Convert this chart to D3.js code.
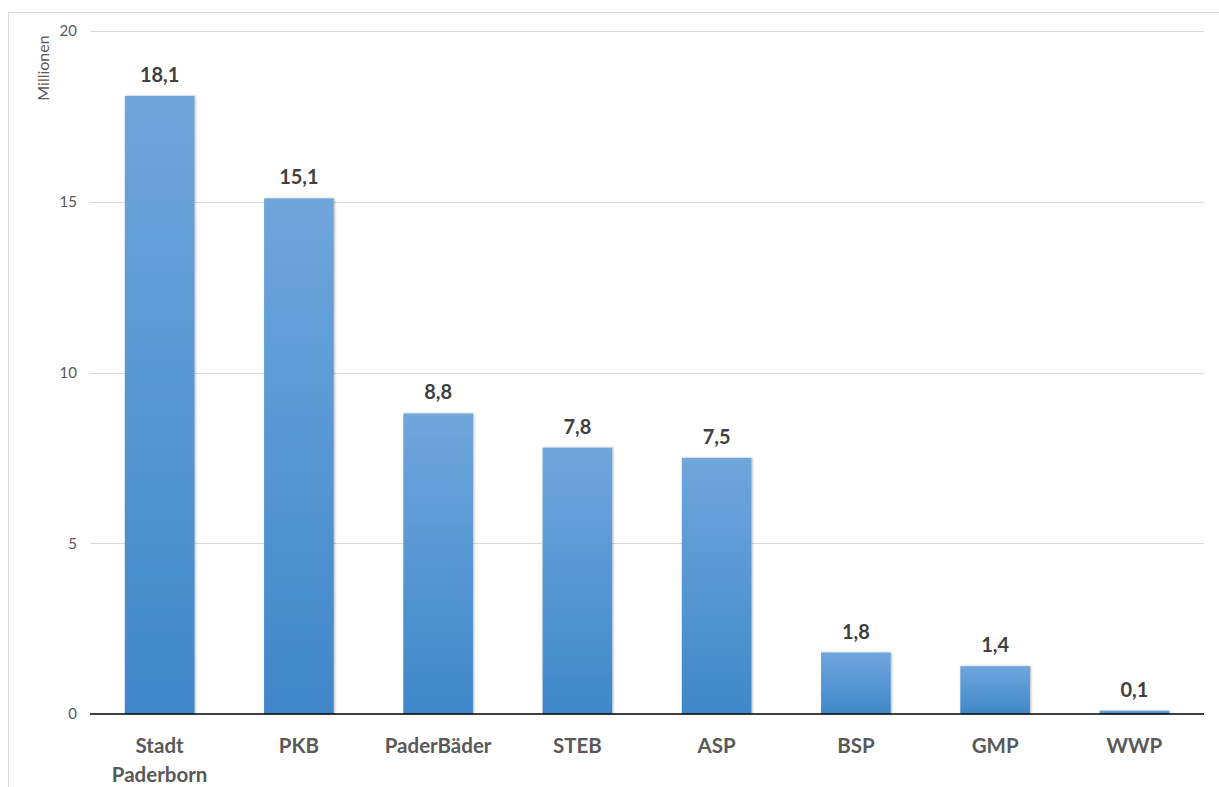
<!DOCTYPE html>
<html>
<head>
<meta charset="utf-8">
<script src="https://cdn.jsdelivr.net/npm/d3@7"></script>
<style>
  html, body { margin: 0; padding: 0; background: #fff; }
  svg { display: block; font-family: Lato, "Open Sans", sans-serif; }
</style>
</head>
<body>
<div id="chart"></div>
<script>
const width = 1219;
const height = 787;

// Data
const categories = ['Stadt Paderborn', 'PKB', 'PaderBäder', 'STEB', 'ASP', 'BSP', 'GMP', 'WWP'];
const values = [18.1, 15.1, 8.8, 7.8, 7.5, 1.8, 1.4, 0.1];
const yTicks = [0, 5, 10, 15, 20];

const margin = { top: 31, right: 15, bottom: 73, left: 90 };

const svg = d3.select('#chart')
    .append('svg')
    .attr('width', width)
    .attr('height', height);

// Bar gradient + soft shadow
const defs = svg.append('defs');
const grad = defs.append('linearGradient')
    .attr('id', 'barGrad')
    .attr('x1', 0).attr('y1', 0).attr('x2', 0).attr('y2', 1);
grad.append('stop').attr('offset', '0%').attr('stop-color', '#6fa6dc');
grad.append('stop').attr('offset', '100%').attr('stop-color', '#3f87c9');

const shadow = defs.append('filter')
    .attr('id', 'shadow')
    .attr('x', '-20%').attr('y', '-5%')
    .attr('width', '140%').attr('height', '110%');
shadow.append('feDropShadow')
    .attr('dx', 1).attr('dy', 0)
    .attr('stdDeviation', 1.2)
    .attr('flood-color', '#000')
    .attr('flood-opacity', 0.3);

// Outer chart border
svg.append('rect')
    .attr('x', 8.5).attr('y', 12.5)
    .attr('width', 1400).attr('height', 1000)
    .attr('fill', 'none')
    .attr('stroke', '#d9d9d9');

const x = d3.scaleBand()
    .domain(categories)
    .range([margin.left, width - margin.right])
    .paddingInner(0.5)
    .paddingOuter(0.25);

const y = d3.scaleLinear()
    .domain([0, 20])
    .range([height - margin.bottom, margin.top]);

// Gridlines
svg.append('g')
    .selectAll('line')
    .data(yTicks.filter(d => d !== 0))
    .enter().append('line')
    .attr('x1', margin.left)
    .attr('x2', width - margin.right)
    .attr('y1', d => Math.round(y(d)) + 0.5)
    .attr('y2', d => Math.round(y(d)) + 0.5)
    .attr('stroke', '#d9d9d9')
    .attr('stroke-width', 1);

// Y axis labels
const yAxis = svg.append('g')
    .attr('transform', `translate(${margin.left},0)`)
    .call(d3.axisLeft(y).tickValues(yTicks).tickSize(0).tickPadding(13));
yAxis.select('.domain').remove();
yAxis.selectAll('text')
    .attr('fill', '#595959')
    .style('font-size', '15px')
    .style('font-family', 'Lato, "Open Sans", sans-serif');

// Axis title
svg.append('text')
    .attr('transform', 'translate(49, 68) rotate(-90)')
    .attr('text-anchor', 'middle')
    .attr('fill', '#595959')
    .style('font-size', '16px')
    .text('Millionen');

// Bars
svg.append('g')
    .selectAll('rect')
    .data(values)
    .enter().append('rect')
    .attr('x', (d, i) => x(categories[i]))
    .attr('y', d => y(d))
    .attr('width', x.bandwidth())
    .attr('height', d => y(0) - y(d))
    .attr('fill', 'url(#barGrad)')
    .attr('filter', 'url(#shadow)');

// Zero line
svg.append('line')
    .attr('x1', margin.left)
    .attr('x2', width - margin.right)
    .attr('y1', y(0))
    .attr('y2', y(0))
    .attr('stroke', '#000')
    .attr('stroke-width', 1.5);

// Value labels
const fmt = d3.formatLocale({ decimal: ',', thousands: '.', grouping: [3], currency: ['', ' €'] }).format('.1f');
svg.append('g')
    .selectAll('text')
    .data(values)
    .enter().append('text')
    .attr('x', (d, i) => x(categories[i]) + x.bandwidth() / 2)
    .attr('y', d => y(d) - 14)
    .attr('text-anchor', 'middle')
    .attr('fill', '#404040')
    .style('font-size', '20px')
    .style('font-weight', 'bold')
    .text(d => fmt(d));

// Category labels (wrap on space)
const catLabels = svg.append('g')
    .selectAll('text')
    .data(categories)
    .enter().append('text')
    .attr('x', d => x(d) + x.bandwidth() / 2)
    .attr('y', 753)
    .attr('text-anchor', 'middle')
    .attr('fill', '#595959')
    .style('font-size', '20.5px')
    .style('font-weight', 'bold');

catLabels.each(function(d) {
    const words = d.split(' ');
    const t = d3.select(this);
    words.forEach((w, i) => {
        t.append('tspan')
            .attr('x', x(d) + x.bandwidth() / 2)
            .attr('dy', i === 0 ? 0 : 29)
            .text(w);
    });
});
</script>
</body>
</html>
